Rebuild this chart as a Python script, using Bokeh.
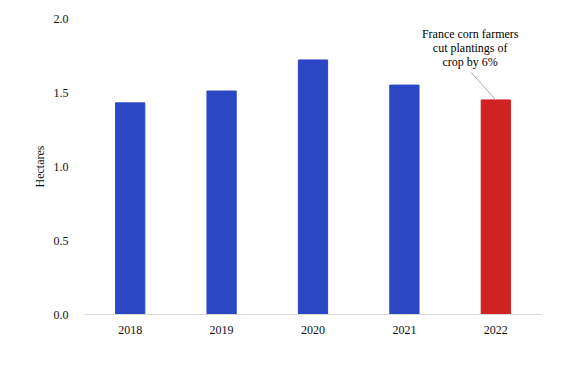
from bokeh.plotting import figure
from bokeh.models import Range1d, FactorRange, ColumnDataSource, NumeralTickFormatter, FixedTicker
from bokeh.core.properties import value
from bokeh.embed import file_html
from bokeh.resources import INLINE

years = ["2018", "2019", "2020", "2021", "2022"]
hectares = [1.43, 1.51, 1.72, 1.55, 1.45]
colors = ["#2B47C4", "#2B47C4", "#2B47C4", "#2B47C4", "#D02222"]
y_ticks = [0.0, 0.5, 1.0, 1.5, 2.0]
note = "France corn farmers\ncut plantings of\ncrop by 6%"

FONT = "'Liberation Serif', serif"

p = figure(width=564, height=359, output_backend="svg", toolbar_location=None,
           x_range=FactorRange(*years, range_padding=0), y_range=Range1d(0, 2.0),
           min_border_left=84, min_border_right=23, min_border_top=18, min_border_bottom=45)
p.outline_line_color = None
p.xgrid.grid_line_color = None
p.ygrid.grid_line_color = None

src = ColumnDataSource(dict(x=years, top=hectares, color=colors))
p.vbar(x="x", top="top", width=0.32, color="color", source=src)

# annotation
p.text(x=[4.22], y=[1.94], text=[note], text_align="center", text_baseline="top",
       text_font=value(FONT), text_font_size="12px", text_color="#000000", text_line_height=1.0)
p.segment(x0=[4.23], y0=[1.635], x1=[4.5], y1=[hectares[-1]], line_color="#aaaaaa", line_width=1)

p.yaxis.ticker = FixedTicker(ticks=y_ticks)
p.yaxis.formatter = NumeralTickFormatter(format="0.0")
p.yaxis.axis_line_color = None
p.yaxis.major_tick_line_color = None
p.yaxis.minor_tick_line_color = None
p.yaxis.axis_label = "Hectares"
p.yaxis.axis_label_text_font = FONT
p.yaxis.axis_label_text_font_style = "normal"
p.yaxis.axis_label_text_font_size = "12px"
p.yaxis.axis_label_standoff = 4
p.yaxis.major_label_standoff = 10

p.xaxis.axis_line_color = "#d9d9d9"
p.xaxis.major_tick_line_color = None
p.xaxis.minor_tick_line_color = None
p.xaxis.major_label_standoff = 5

for ax in (p.xaxis, p.yaxis):
    ax.major_label_text_font = FONT
    ax.major_label_text_font_size = "12px"
    ax.major_label_text_color = "#111111"
    ax.axis_label_text_color = "#111111"

open("out.html", "w").write(file_html(p, INLINE))
